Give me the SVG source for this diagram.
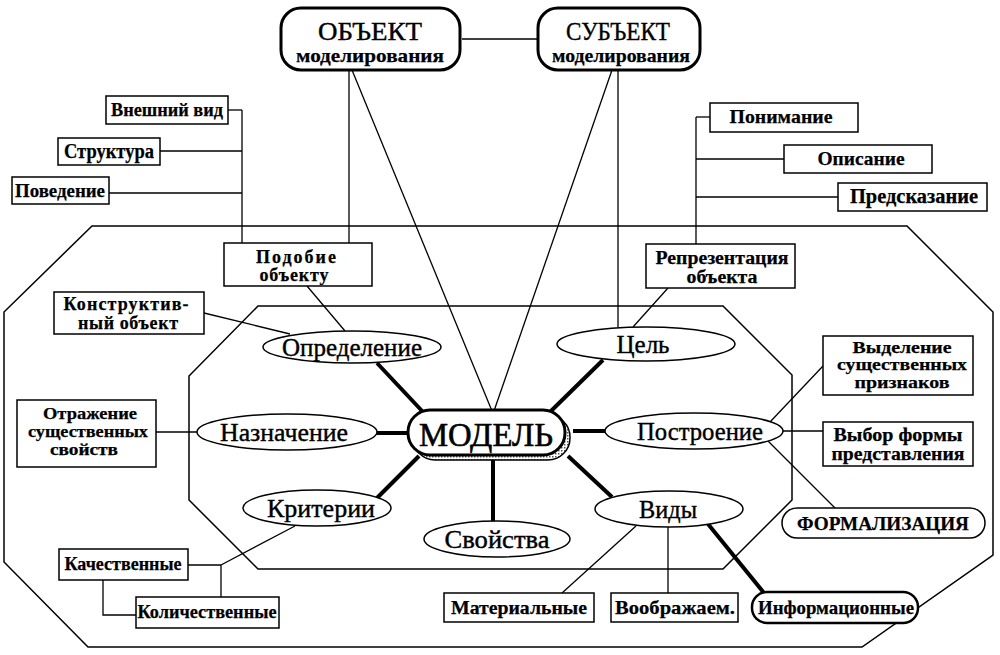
<svg xmlns="http://www.w3.org/2000/svg" width="1000" height="655" viewBox="0 0 1000 655">
<style>
.bg{fill:#fff}
.frame{fill:none;stroke:#000;stroke-width:1.5}
.box{fill:#fff;stroke:#000;stroke-width:1.5}
.tbox{fill:#fff;stroke:#000;stroke-width:3}
.ell{fill:#fff;stroke:#000;stroke-width:1.5}
.ln{stroke:#000;stroke-width:1.3;fill:none}
.thick{stroke:#000;stroke-width:4;fill:none}
.t{font-family:"Liberation Serif","Times New Roman",serif;font-weight:bold;fill:#000;stroke:#000;stroke-width:0.25;text-anchor:middle;font-size:19px}
.m{font-size:18px}
.s{font-size:17px}
.e{font-family:"Liberation Serif","Times New Roman",serif;fill:#000;stroke:#000;stroke-width:0.4;text-anchor:middle;font-size:25px}
</style>
<defs>
<pattern id="dots" width="3" height="3" patternUnits="userSpaceOnUse">
<rect width="3" height="3" fill="#fff"/>
<rect width="1.5" height="1.5" fill="#555"/>
</pattern>
</defs>
<rect class="bg" width="1000" height="655"/>
<g id="frames">
<polygon class="frame" points="92,226 907,226 993,312 993,555 862,647 88,647 4,562 4,312"/>
<polygon class="frame" points="258,306 723,306 792,375 792,500 723,569 258,569 189,500 189,376"/>
</g>
<g id="connectors">
<line class="ln" x1="462" y1="39" x2="538" y2="39"/>
<line class="ln" x1="349" y1="70" x2="349" y2="243"/>
<line class="ln" x1="352" y1="70" x2="492" y2="411"/>
<line class="ln" x1="612" y1="70" x2="494" y2="411"/>
<line class="ln" x1="618" y1="70" x2="618" y2="327"/>
<line class="ln" x1="242" y1="110" x2="242" y2="243"/>
<line class="ln" x1="228" y1="110" x2="242" y2="110"/>
<line class="ln" x1="160" y1="151" x2="242" y2="151"/>
<line class="ln" x1="109" y1="193" x2="242" y2="193"/>
<line class="ln" x1="696" y1="117" x2="696" y2="244"/>
<line class="ln" x1="696" y1="117" x2="710" y2="117"/>
<line class="ln" x1="696" y1="159" x2="784" y2="159"/>
<line class="ln" x1="696" y1="197" x2="838" y2="197"/>
<line class="ln" x1="307" y1="286" x2="345" y2="331"/>
<line class="ln" x1="204" y1="313" x2="290" y2="334"/>
<line class="ln" x1="668" y1="288" x2="633" y2="327"/>
<line class="ln" x1="156" y1="432" x2="197" y2="432"/>
<line class="ln" x1="770" y1="422" x2="823" y2="366"/>
<line class="ln" x1="783" y1="431" x2="823" y2="431"/>
<line class="ln" x1="768" y1="441" x2="835" y2="508"/>
<line class="ln" x1="295" y1="526" x2="221" y2="565"/>
<line class="ln" x1="188" y1="565" x2="221" y2="565"/>
<line class="ln" x1="221" y1="565" x2="221" y2="597"/>
<polyline class="ln" points="103,580 103,615 136,615"/>
<line class="ln" x1="636" y1="526" x2="562" y2="593"/>
<line class="ln" x1="668" y1="527" x2="668" y2="593"/>
<line class="thick" x1="377" y1="363" x2="423" y2="412"/>
<line class="thick" x1="377" y1="433" x2="408" y2="433"/>
<line class="thick" x1="377" y1="498" x2="419" y2="456"/>
<line class="thick" x1="493" y1="460" x2="493" y2="521"/>
<line class="thick" x1="550" y1="412" x2="603" y2="360"/>
<line class="thick" x1="573" y1="431" x2="605" y2="431"/>
<line class="thick" x1="568" y1="456" x2="612" y2="497"/>
<line class="thick" x1="708" y1="524" x2="764" y2="593"/>
</g>
<g id="obj">
<rect class="tbox" x="281" y="8" width="179" height="62" rx="20"/>
<text class="e" x="370" y="40" style="font-size:26px" textLength="104" lengthAdjust="spacingAndGlyphs">ОБЪЕКТ</text>
<text class="t" x="370" y="62" textLength="148" lengthAdjust="spacingAndGlyphs">моделирования</text>
</g>
<g id="subj">
<rect class="tbox" x="538" y="8" width="162" height="62" rx="20"/>
<text class="e" x="618" y="40" style="font-size:26px" textLength="104" lengthAdjust="spacingAndGlyphs">СУБЪЕКТ</text>
<text class="t" x="621" y="62" textLength="138" lengthAdjust="spacingAndGlyphs">моделирования</text>
</g>
<g id="vneshniy">
<rect class="box" x="106" y="96" width="122" height="28"/>
<text class="t" x="167" y="116" textLength="112" lengthAdjust="spacingAndGlyphs">Внешний вид</text>
</g>
<g id="struktura">
<rect class="box" x="58" y="138" width="102" height="27"/>
<text class="t" x="109" y="158" style="font-size:20px" textLength="90" lengthAdjust="spacingAndGlyphs">Структура</text>
</g>
<g id="povedenie">
<rect class="box" x="12" y="177" width="97" height="27"/>
<text class="t" x="60" y="197" textLength="90" lengthAdjust="spacingAndGlyphs">Поведение</text>
</g>
<g id="podobie">
<rect class="box" x="224" y="243" width="148" height="43"/>
<text class="t m" x="296" y="263" textLength="80">Подобие</text>
<text class="t m" x="294" y="281" textLength="69">объекту</text>
</g>
<g id="konstr">
<rect class="box" x="54" y="292" width="150" height="42"/>
<text class="t m" x="126" y="310" textLength="125">Конструктив-</text>
<text class="t m" x="128" y="329" textLength="100">ный объект</text>
</g>
<g id="otrazh">
<rect class="box" x="17" y="400" width="139" height="67"/>
<text class="t s" x="90" y="419" textLength="94" lengthAdjust="spacingAndGlyphs">Отражение</text>
<text class="t s" x="88" y="437" textLength="120" lengthAdjust="spacingAndGlyphs">существенных</text>
<text class="t s" x="84" y="455" textLength="68" lengthAdjust="spacingAndGlyphs">свойств</text>
</g>
<g id="ponimanie">
<rect class="box" x="710" y="103" width="148" height="29"/>
<text class="t" x="781" y="123" textLength="103" lengthAdjust="spacingAndGlyphs">Понимание</text>
</g>
<g id="opisanie">
<rect class="box" x="784" y="145" width="148" height="28"/>
<text class="t" x="861" y="165" textLength="87" lengthAdjust="spacingAndGlyphs">Описание</text>
</g>
<g id="predskaz">
<rect class="box" x="838" y="183" width="149" height="28"/>
<text class="t" x="914" y="203" style="font-size:20px" textLength="128" lengthAdjust="spacingAndGlyphs">Предсказание</text>
</g>
<g id="reprez">
<rect class="box" x="646" y="244" width="149" height="44"/>
<text class="t m" x="722" y="264" textLength="133" lengthAdjust="spacingAndGlyphs">Репрезентация</text>
<text class="t m" x="722" y="283" textLength="71" lengthAdjust="spacingAndGlyphs">объекта</text>
</g>
<g id="vydelenie">
<rect class="box" x="823" y="336" width="150" height="59"/>
<text class="t s" x="902" y="353" textLength="99" lengthAdjust="spacingAndGlyphs">Выделение</text>
<text class="t s" x="902" y="370" textLength="130" lengthAdjust="spacingAndGlyphs">существенных</text>
<text class="t s" x="902" y="388" textLength="95" lengthAdjust="spacingAndGlyphs">признаков</text>
</g>
<g id="vybor">
<rect class="box" x="823" y="422" width="150" height="44"/>
<text class="t m" x="898" y="441" textLength="129" lengthAdjust="spacingAndGlyphs">Выбор формы</text>
<text class="t m" x="898" y="460" textLength="133" lengthAdjust="spacingAndGlyphs">представления</text>
</g>
<g id="formal">
<rect class="box" x="782" y="508" width="203" height="30" rx="15"/>
<text class="t" x="883" y="530" textLength="172" lengthAdjust="spacingAndGlyphs">ФОРМАЛИЗАЦИЯ</text>
</g>
<g id="kach">
<rect class="box" x="59" y="549" width="129" height="31"/>
<text class="t m" x="123" y="570" textLength="117" lengthAdjust="spacingAndGlyphs">Качественные</text>
</g>
<g id="kolich">
<rect class="box" x="136" y="597" width="143" height="31"/>
<text class="t m" x="207" y="618" textLength="139" lengthAdjust="spacingAndGlyphs">Количественные</text>
</g>
<g id="mater">
<rect class="box" x="444" y="593" width="150" height="29"/>
<text class="t" x="519" y="614" textLength="136" lengthAdjust="spacingAndGlyphs">Материальные</text>
</g>
<g id="voobr">
<rect class="box" x="611" y="593" width="127" height="29"/>
<text class="t" x="675" y="614" textLength="120" lengthAdjust="spacingAndGlyphs">Воображаем.</text>
</g>
<g id="inform">
<rect class="tbox" x="752" y="592" width="166" height="31" rx="15" style="stroke-width:2.5"/>
<text class="t" x="836" y="614" textLength="156" lengthAdjust="spacingAndGlyphs">Информационные</text>
</g>
<g id="opredelenie">
<ellipse class="ell" cx="352" cy="347" rx="89" ry="16"/>
<text class="e" x="352" y="356" textLength="140" lengthAdjust="spacingAndGlyphs">Определение</text>
</g>
<g id="naznachenie">
<ellipse class="ell" cx="287" cy="432" rx="90" ry="18"/>
<text class="e" x="284" y="441" textLength="128" lengthAdjust="spacingAndGlyphs">Назначение</text>
</g>
<g id="kriterii">
<ellipse class="ell" cx="317" cy="508" rx="74" ry="18"/>
<text class="e" x="321" y="517" textLength="108" lengthAdjust="spacingAndGlyphs">Критерии</text>
</g>
<g id="svoystva">
<ellipse class="ell" cx="497" cy="539" rx="73" ry="18"/>
<text class="e" x="497" y="548" textLength="105" lengthAdjust="spacingAndGlyphs">Свойства</text>
</g>
<g id="cel">
<ellipse class="ell" cx="646" cy="344" rx="89" ry="17"/>
<text class="e" x="643" y="353" textLength="53" lengthAdjust="spacingAndGlyphs">Цель</text>
</g>
<g id="postroenie">
<ellipse class="ell" cx="694" cy="431" rx="89" ry="18"/>
<text class="e" x="700" y="440" textLength="126" lengthAdjust="spacingAndGlyphs">Построение</text>
</g>
<g id="vidy">
<ellipse class="ell" cx="669" cy="509" rx="74" ry="18"/>
<text class="e" x="668" y="518" textLength="58" lengthAdjust="spacingAndGlyphs">Виды</text>
</g>
<g id="model">
<rect x="413" y="415" width="157" height="45" rx="22" fill="url(#dots)" stroke="#000" stroke-width="1.5"/>
<rect x="408" y="410" width="157" height="45" rx="22" fill="#fff" stroke="#000" stroke-width="3"/>
<text class="e" x="486" y="446" style="font-size:34px;stroke-width:0.6" textLength="134" lengthAdjust="spacingAndGlyphs">МОДЕЛЬ</text>
</g>
</svg>
